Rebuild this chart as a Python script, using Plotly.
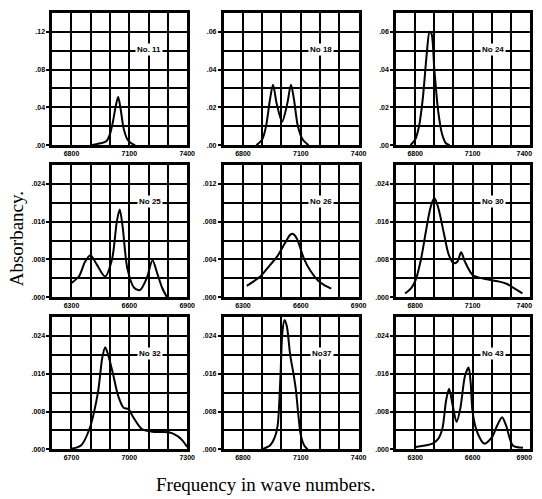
import plotly.graph_objects as go

W, H = 542, 499

# ---- data ----
names = ["No. 11", "No 18", "No 24", "No 25", "No 26", "No 30", "No 32", "No37", "No 43"]

x11 = [6905, 6950, 6980, 7000, 7015, 7030, 7042, 7055, 7070, 7090, 7110, 7130]
y11 = [0, 0.002, 0.004, 0.012, 0.025, 0.042, 0.051, 0.038, 0.018, 0.006, 0.002, 0]

x18 = [6870, 6900, 6920, 6940, 6956, 6975, 7003, 7030, 7049, 7065, 7085, 7110, 7140]
y18 = [0, 0.003, 0.010, 0.024, 0.032, 0.022, 0.0125, 0.022, 0.032, 0.024, 0.010, 0.003, 0]

x24 = [6775, 6800, 6820, 6840, 6860, 6875, 6885, 6900, 6920, 6940, 6960, 6980]
y24 = [0, 0.003, 0.010, 0.025, 0.048, 0.060, 0.059, 0.040, 0.018, 0.006, 0.001, 0]

x25 = [6300, 6340, 6370, 6398, 6430, 6474, 6510, 6535, 6550, 6565, 6590, 6625, 6655, 6690, 6720, 6745, 6770, 6795]
y25 = [0.003, 0.0045, 0.0075, 0.0089, 0.007, 0.0044, 0.008, 0.016, 0.0186, 0.015, 0.006, 0.002, 0.0015, 0.004, 0.0078, 0.005, 0.002, 0.0]

x26 = [6320, 6390, 6440, 6477, 6520, 6545, 6560, 6580, 6618, 6650, 6688, 6720, 6758]
y26 = [0.0012, 0.0022, 0.0034, 0.0043, 0.0058, 0.0066, 0.0067, 0.0062, 0.0040, 0.0028, 0.0018, 0.0013, 0.0009]

x30 = [6747, 6780, 6802, 6830, 6854, 6880, 6900, 6920, 6950, 6975, 7000, 7020, 7040, 7060, 7100, 7150, 7200, 7240, 7280, 7320, 7360]
y30 = [0.0008, 0.002, 0.0036, 0.008, 0.0135, 0.019, 0.021, 0.019, 0.0135, 0.009, 0.0072, 0.0075, 0.0095, 0.0075, 0.0047, 0.0040, 0.0036, 0.0033, 0.0028, 0.0018, 0.0008]

x32 = [6696, 6749, 6793, 6837, 6860, 6875, 6890, 6915, 6942, 6970, 6995, 7020, 7065, 7120, 7205, 7250, 7275, 7300]
y32 = [0.0001, 0.0008, 0.0043, 0.012, 0.0195, 0.0216, 0.020, 0.016, 0.0113, 0.0088, 0.0085, 0.0068, 0.0043, 0.0037, 0.0036, 0.0028, 0.0019, 0.0005]

x37 = [6898, 6940, 6965, 6980, 6995, 7005, 7016, 7028, 7045, 7060, 7074, 7088, 7100, 7118, 7135]
y37 = [0, 0.0008, 0.0025, 0.0050, 0.0158, 0.025, 0.0274, 0.026, 0.020, 0.0165, 0.0128, 0.007, 0.003, 0.0008, 0]

x43 = [6302, 6390, 6420, 6442, 6462, 6477, 6495, 6516, 6535, 6560, 6579, 6590, 6600, 6625, 6661, 6700, 6730, 6754, 6775, 6810, 6863]
y43 = [0.0005, 0.0012, 0.0022, 0.0044, 0.0105, 0.0128, 0.0095, 0.0058, 0.0085, 0.0155, 0.0173, 0.014, 0.0078, 0.0035, 0.0012, 0.0025, 0.0052, 0.0068, 0.0050, 0.0008, 0.0003]

xs = [x11, x18, x24, x25, x26, x30, x32, x37, x43]
ys = [y11, y18, y24, y25, y26, y30, y32, y37, y43]

# x-axis start (wave numbers) and tick labels per panel
x_start = [6700, 6700, 6700, 6200, 6200, 6700, 6600, 6700, 6200]
xticks_a = ["6800", "7100", "7400"]
xticks_b = ["6300", "6600", "6900"]
xticks_c = ["6700", "7000", "7300"]
xtick_text = [xticks_a, xticks_a, xticks_a, xticks_b, xticks_b, xticks_a, xticks_c, xticks_a, xticks_b]

# y grid step and tick labels per panel
y_step = [0.02, 0.01, 0.01, 0.004, 0.002, 0.004, 0.004, 0.004, 0.004]
yt_11 = [".00", ".04", ".08", ".12"]
yt_18 = [".00", ".02", ".04", ".06"]
yt_24 = [".00", ".02", ".04", ".06"]
yt_24b = [".000", ".008", ".016", ".024"]
yt_26 = [".000", ".004", ".008", ".012"]
ytick_text = [yt_11, yt_18, yt_24, yt_24b, yt_26, yt_24b, yt_24b, yt_24b, yt_24b]

# ---- layout geometry (pixels) ----
col_left = [53, 227, 402]
col_w = [137, 137, 136]
row_top = [13, 166, 319]
row_h = 133

fig = go.Figure()
layout = dict(width=W, height=H, margin=dict(l=0, r=0, t=0, b=0),
              paper_bgcolor="white", plot_bgcolor="white", showlegend=False)

annotations = []
for i in range(9):
    r, c = divmod(i, 3)
    ax = "" if i == 0 else str(i + 1)
    x0 = x_start[i]
    step = y_step[i]
    fig.add_trace(go.Scatter(x=xs[i], y=ys[i], mode="lines",
                             line=dict(color="black", width=2, shape="spline", smoothing=0.8),
                             xaxis="x" + ax, yaxis="y" + ax, cliponaxis=True))
    dx0 = col_left[c] / W
    dx1 = (col_left[c] + col_w[c]) / W
    dy1 = 1 - row_top[r] / H
    dy0 = 1 - (row_top[r] + row_h) / H
    tickfont = dict(family="Liberation Sans", size=7, color="black", weight="bold")
    # last label of the right column sits a little inside so it stays in the window
    last = x0 + (670 if c == 2 else 700)
    layout["xaxis" + ax] = dict(
        domain=[dx0, dx1], anchor="y" + ax, range=[x0, x0 + 700],
        tickmode="array", tickvals=[x0 + 100, x0 + 400, last], ticktext=xtick_text[i],
        showgrid=False,
        minor=dict(tick0=x0, dtick=100, showgrid=True, gridcolor="black", gridwidth=1.8),
        showline=True, mirror=True, linecolor="black", linewidth=2.5,
        ticks="", tickfont=tickfont, zeroline=False, fixedrange=True, ticklabelstandoff=0)
    layout["yaxis" + ax] = dict(
        domain=[dy0, dy1], anchor="x" + ax, range=[0, 7 * step],
        tickmode="array", tickvals=[0, 2 * step, 4 * step, 6 * step], ticktext=ytick_text[i],
        showgrid=True, gridcolor="black", gridwidth=1.8,
        minor=dict(tick0=0, dtick=step, showgrid=True, gridcolor="black", gridwidth=1.8),
        showline=True, mirror=True, linecolor="black", linewidth=2.5,
        ticks="outside", ticklen=3, tickwidth=2, tickcolor="black",
        tickfont=tickfont, zeroline=False, fixedrange=True)
    annotations.append(dict(
        text=names[i], xref="x" + ax + " domain", yref="y" + ax + " domain",
        x=0.82, y=0.775, showarrow=False, bgcolor="white", borderpad=1,
        font=dict(family="Liberation Sans", size=8, color="black", weight="bold")))

annotations.append(dict(text="Absorbancy.", xref="paper", yref="paper", x=17 / W, y=1 - 240 / H,
                        xanchor="center", yanchor="middle",
                        textangle=-90, showarrow=False,
                        font=dict(family="Liberation Serif", size=19, color="black")))
annotations.append(dict(text="Frequency in wave numbers.", xref="paper", yref="paper",
                        x=270 / W, y=1 - 487 / H, xanchor="center", yanchor="middle", showarrow=False,
                        font=dict(family="Liberation Serif", size=19, color="black")))
layout["annotations"] = annotations
fig.update_layout(**layout)
fig.write_html("out.html", config={"displayModeBar": False},
               post_script="document.body.style.margin='0';")
